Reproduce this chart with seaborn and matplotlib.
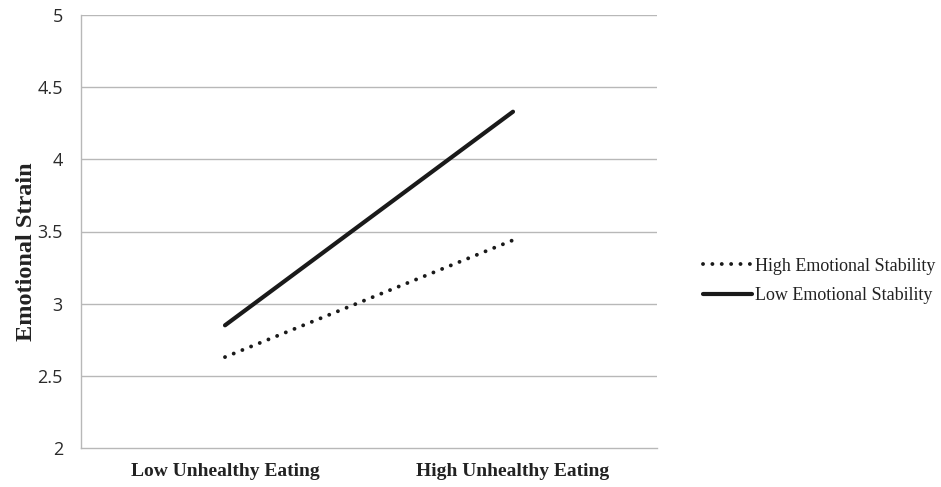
import matplotlib
matplotlib.use("Agg")
import matplotlib.pyplot as plt
import seaborn as sns
import pandas as pd

categories = ["Low Unhealthy Eating", "High Unhealthy Eating"]
high_es = [2.63, 3.44]
low_es = [2.85, 4.33]
series_names = ["High Emotional Stability", "Low Emotional Stability"]
y_ticks = [2, 2.5, 3, 3.5, 4, 4.5, 5]
y_tick_labels = ["2", "2.5", "3", "3.5", "4", "4.5", "5"]

sns.set_theme(style="white")
plt.rcParams['font.family'] = ['Open Sans', 'DejaVu Sans']

df = pd.DataFrame({
    "x": categories * 2,
    "y": high_es + low_es,
    "group": [series_names[0]] * 2 + [series_names[1]] * 2,
})

fig = plt.figure(figsize=(9.41, 4.87), dpi=100)
ax = fig.add_axes([81/941, 1-448/487, (657-81)/941, (448-15)/487])

for ypos in y_ticks[1:]:
    ax.axhline(ypos, color="#b8b8b8", lw=1.0, zorder=0)

sub_h = df[df.group == series_names[0]]
sub_l = df[df.group == series_names[1]]
sns.lineplot(data=sub_h, x="x", y="y", ax=ax, color="#1a1a1a", lw=2.8,
             linestyle=(0, (0.01, 2.4)), dash_capstyle="round",
             label=series_names[0], legend=False)
sns.lineplot(data=sub_l, x="x", y="y", ax=ax, color="#1a1a1a", lw=3.0,
             solid_capstyle="round", label=series_names[1], legend=False)

ax.set_xlim(-0.5, 1.5)
ax.set_ylim(2, 5)
ax.set_yticks(y_ticks)
ax.set_yticklabels(y_tick_labels, fontsize=13, color="#2a2a2a")
ax.set_xticks([0, 1])
ax.set_xticklabels(categories, fontsize=14, fontweight="bold",
                   family=["Liberation Serif"], color="#222222")
ax.tick_params(axis="y", length=0, pad=13)
ax.tick_params(axis="x", length=0, pad=11)
ax.set_xlabel("")
ax.set_ylabel("Emotional Strain", fontsize=17.5, fontweight="bold",
              family=["Liberation Serif"], color="#222222", labelpad=3)
ax.yaxis.set_label_coords(-0.077, 0.453)

for s in ["top", "right"]:
    ax.spines[s].set_visible(False)
ax.spines["left"].set_color("#b8b8b8")
ax.spines["bottom"].set_color("#b8b8b8")
ax.spines["left"].set_linewidth(1.0)
ax.spines["bottom"].set_linewidth(1.0)

handles, labels = ax.get_legend_handles_labels()
leg = fig.legend(handles, labels, loc="center left",
                 bbox_to_anchor=(703/941, 1-281/487), frameon=False,
                 borderaxespad=0, borderpad=0,
                 prop={"family": "Liberation Serif", "size": 13},
                 handlelength=2.7, handletextpad=0.2, labelspacing=0.7)
for t in leg.get_texts():
    t.set_color("#222222")

fig.savefig("out.png", dpi=100)
